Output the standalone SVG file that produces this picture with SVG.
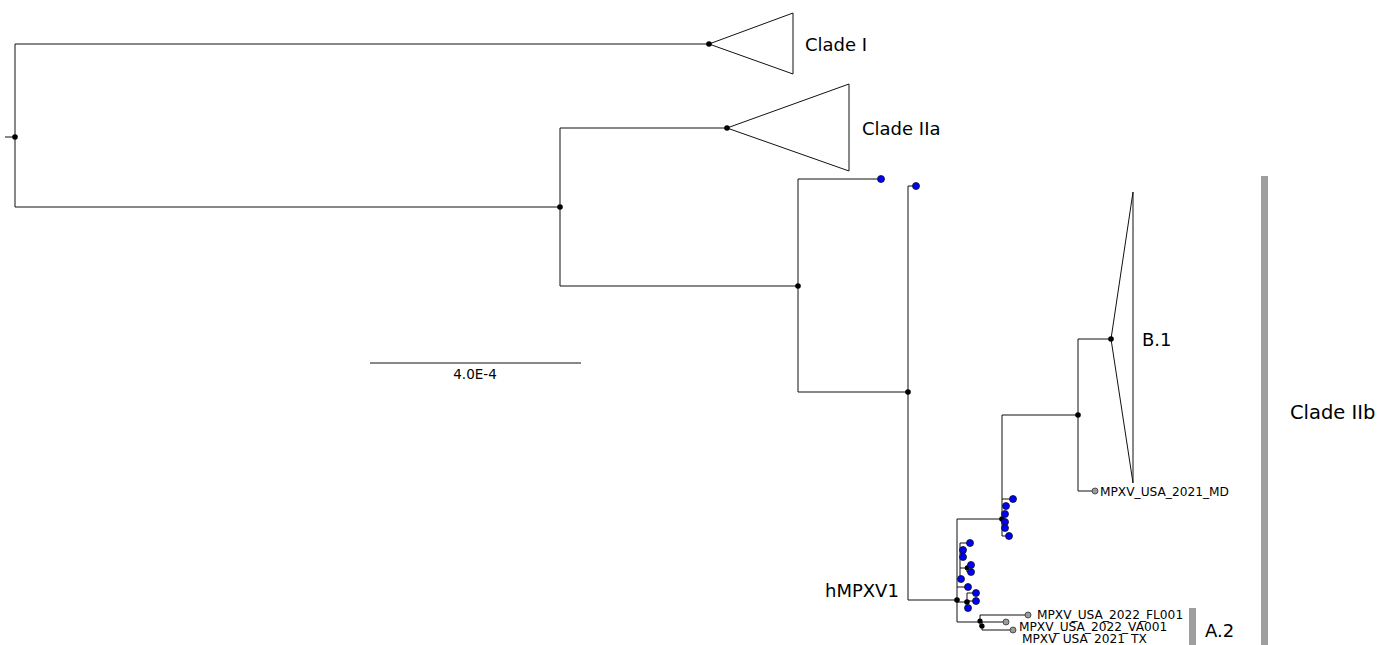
<svg xmlns="http://www.w3.org/2000/svg" width="1391" height="645" viewBox="0 0 1391 645">
  <style>
    .br { fill: none; stroke: #111; stroke-width: 1; }
    .tri { fill: #fff; stroke: #111; stroke-width: 1; }
    .nd { fill: #000; }
    .tip { fill: #0000ff; stroke: #111; stroke-width: 0.8; }
    .gtip { fill: #9a9a9a; stroke: #333; stroke-width: 0.8; }
    .bar { fill: #9e9e9e; }
    text { font-family: "DejaVu Sans", Verdana, sans-serif; fill: #000; }
    .clade { font-size: 18px; }
    .big { font-size: 19.5px; }
    .leaf { font-size: 12.2px; }
  </style>

  <rect width="1391" height="645" fill="#fff"/>

  <!-- branches -->
  <g id="connectors">
    <path class="br" d="M5,137 H15 M15,44 V207 M15,44 H709 M15,207 H560"/>
    <path class="br" d="M560,128 V286 M560,128 H727 M560,286 H798"/>
    <path class="br" d="M798,179 V392 M798,179 H881 M798,392 H908"/>
    <path class="br" d="M908,186 V600 M908,186 H916 M908,600 H957"/>
    <!-- hMPXV1 backbone -->
    <path class="br" d="M957,519 V622 M957,519 H1002"/>
    <path class="br" d="M1002,415 V536 M1002,415 H1078 M1078,339 V491 M1078,339 H1111 M1078,491 H1094"/>
    <path class="br" d="M1002,499 H1013 M1002,506 H1006 M1002,514 H1005 M1002,522 H1005 M1002,528 H1005 M1002,536 H1009"/>
    <!-- lower sub-cluster -->
    <path class="br" d="M960,543 V580 M960,543 H970 M960,553 H963 M963,550 V557 M960,568 H967 M967,565 V572 M967,565 H971 M967,572 H971"/>
    <path class="br" d="M957,587 H967 M957,602 H967 M967,593 V608 M967,593 H976 M967,601 H976 M967,608 H968"/>
    <!-- A.2 -->
    <path class="br" d="M957,622 H980 M980,615 V627 M980,615 H1028 M980,626 H982 M982,622 V630 M982,622 H1006 M982,630 H1013"/>
  </g>

  <!-- collapsed clades -->
  <g id="clade-I">
    <polygon class="tri" points="709,44 793,13 793,74"/>
    <circle class="nd" cx="709" cy="44" r="2.8"/>
    <text class="clade" x="805" y="51">Clade I</text>
  </g>
  <g id="clade-IIa">
    <polygon class="tri" points="727,128 849,84 849,171"/>
    <circle class="nd" cx="727" cy="128" r="2.8"/>
    <text class="clade" x="862" y="135">Clade IIa</text>
  </g>
  <g id="clade-B1">
    <polygon class="tri" points="1111,339 1133,192 1133,483"/>
    <circle class="nd" cx="1111" cy="339" r="2.8"/>
    <text class="clade" x="1142" y="346">B.1</text>
  </g>

  <!-- internal nodes -->
  <g id="nodes">
    <circle class="nd" cx="15" cy="137" r="2.8"/>
    <circle class="nd" cx="560" cy="207" r="2.8"/>
    <circle class="nd" cx="798" cy="286" r="2.8"/>
    <circle class="nd" cx="908" cy="392" r="2.8"/>
    <circle class="nd" cx="1078" cy="415" r="2.8"/>
    <circle class="nd" cx="1002" cy="519" r="2.8"/>
    <circle class="nd" cx="957" cy="600" r="2.8"/>
    <circle class="nd" cx="963" cy="553" r="2.4"/>
    <circle class="nd" cx="967" cy="568" r="2.4"/>
    <circle class="nd" cx="967" cy="602" r="2.8"/>
    <circle class="nd" cx="980" cy="621" r="2.6"/>
    <circle class="nd" cx="982" cy="626" r="2.6"/>
  </g>

  <!-- sampled tips -->
  <g id="tips">
    <circle class="tip" cx="881" cy="179" r="3.5"/>
    <circle class="tip" cx="916" cy="186" r="3.5"/>
    <circle class="tip" cx="1013" cy="499" r="3.5"/>
    <circle class="tip" cx="1006" cy="506" r="3.5"/>
    <circle class="tip" cx="1005" cy="514" r="3.5"/>
    <circle class="tip" cx="1005" cy="522" r="3.5"/>
    <circle class="tip" cx="1005" cy="528" r="3.5"/>
    <circle class="tip" cx="1009" cy="536" r="3.5"/>
    <circle class="tip" cx="970" cy="543" r="3.5"/>
    <circle class="tip" cx="963" cy="550" r="3.5"/>
    <circle class="tip" cx="963" cy="557" r="3.5"/>
    <circle class="tip" cx="971" cy="565" r="3.5"/>
    <circle class="tip" cx="971" cy="572" r="3.5"/>
    <circle class="tip" cx="961" cy="579" r="3.5"/>
    <circle class="tip" cx="968" cy="587" r="3.5"/>
    <circle class="tip" cx="976" cy="593" r="3.5"/>
    <circle class="tip" cx="976" cy="601" r="3.5"/>
    <circle class="tip" cx="968" cy="608" r="3.5"/>
  </g>

  <g id="tip-MD">
    <circle class="gtip" cx="1095" cy="491" r="3"/>
    <text class="leaf" x="1100" y="496">MPXV_USA_2021_MD</text>
  </g>
  <g id="tip-FL001">
    <circle class="gtip" cx="1028" cy="615" r="3"/>
    <text class="leaf" x="1037" y="619">MPXV_USA_2022_FL001</text>
  </g>
  <g id="tip-VA001">
    <circle class="gtip" cx="1006" cy="622" r="3"/>
    <text class="leaf" x="1019" y="631">MPXV_USA_2022_VA001</text>
  </g>
  <g id="tip-TX">
    <circle class="gtip" cx="1013" cy="630" r="3"/>
    <text class="leaf" x="1022" y="643">MPXV_USA_2021_TX</text>
  </g>

  <g id="label-hMPXV1">
    <text class="clade" x="825" y="597">hMPXV1</text>
  </g>

  <g id="bar-A2">
    <rect class="bar" x="1189" y="608" width="7" height="37"/>
    <text class="clade" x="1205" y="637">A.2</text>
  </g>
  <g id="bar-IIb">
    <rect class="bar" x="1261" y="176" width="7" height="469"/>
    <text class="big" x="1290" y="419">Clade IIb</text>
  </g>

  <g id="scale">
    <path class="br" d="M370,363 H581"/>
    <text x="475" y="379" font-size="13.5" text-anchor="middle">4.0E-4</text>
  </g>
</svg>
